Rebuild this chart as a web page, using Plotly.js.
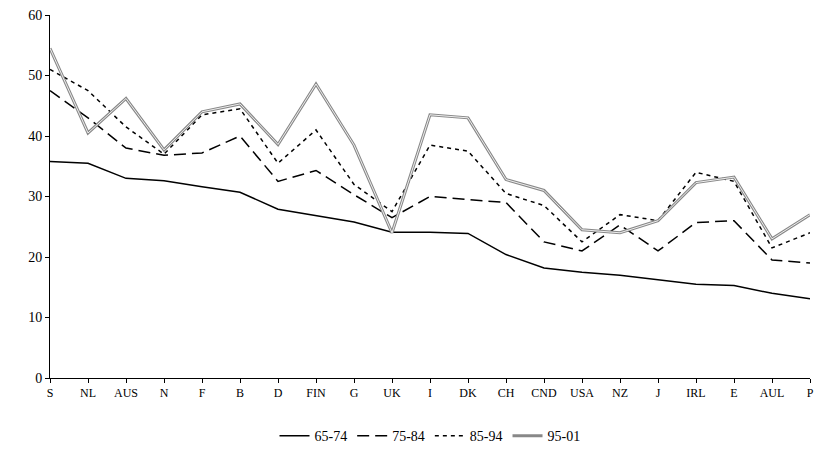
<!DOCTYPE html>
<html><head><meta charset="utf-8">
<script src="https://cdn.plot.ly/plotly-3.0.1.min.js"></script>
<style>body{margin:0;background:#fff}#chart{width:817px;height:452px}</style>
</head><body><div id="chart"></div>
<script>
const countries = ['S','NL','AUS','N','F','B','D','FIN','G','UK','I','DK','CH','CND','USA','NZ','J','IRL','E','AUL','P'];
const p6574 = [35.8,35.5,33,32.6,31.6,30.7,27.9,26.9,25.8,24.1,24.1,23.9,20.4,18.2,17.5,17,16.3,15.5,15.3,14,13.1];
const p7584 = [47.5,43,38,36.8,37.2,40,32.5,34.3,30.3,26.5,30,29.5,29,22.5,21,25.3,21,25.7,26,19.5,19];
const p8594 = [51,47.5,41.5,37,43.5,44.5,35.5,41,32,27.5,38.5,37.5,30.5,28.5,22.5,27,26,34,32.5,21.5,24];
const p9501 = [54.5,40.5,46.2,37.7,44,45.3,38.6,48.6,38.5,24,43.5,43,32.8,31,24.5,24,26,32.3,33.2,23,27];

const traces = [
  { name: '65-74', x: countries, y: p6574, mode: 'lines', line: { color: '#000', width: 1.5 } },
  { name: '75-84', x: countries, y: p7584, mode: 'lines', line: { color: '#000', width: 1.5, dash: '12px,6px' } },
  { name: '85-94', x: countries, y: p8594, mode: 'lines', line: { color: '#000', width: 1.5, dash: '4px,4px' } },
  { name: '95-01', x: countries, y: p9501, mode: 'lines', line: { color: '#888', width: 3 } },
  { name: '95-01', x: countries, y: p9501, mode: 'lines', line: { color: '#eee', width: 1 }, showlegend: false, hoverinfo: 'skip' },
];

const layout = {
  width: 817, height: 452,
  paper_bgcolor: '#fff', plot_bgcolor: '#fff',
  font: { family: 'Liberation Serif, Times New Roman, serif', color: '#000', size: 13 },
  margin: { t: 15, r: 7, b: 74, l: 50 },
  showlegend: true,
  legend: { orientation: 'h', x: 0.5, xanchor: 'center', yref: 'container', y: 0.035, yanchor: 'middle', font: { size: 14 } },
  xaxis: { range: [0, 20], showgrid: false, zeroline: false, showline: true, linecolor: '#000',
           ticks: 'outside', ticklen: 4, tickcolor: '#000', tickfont: { size: 12 } },
  yaxis: { range: [0, 60], dtick: 10, showgrid: false, zeroline: false, showline: true, linecolor: '#000',
           ticks: 'outside', ticklen: 4, tickcolor: '#000', tickfont: { size: 14 } },
};

Plotly.newPlot('chart', traces, layout, { displayModeBar: false });
</script></body></html>
